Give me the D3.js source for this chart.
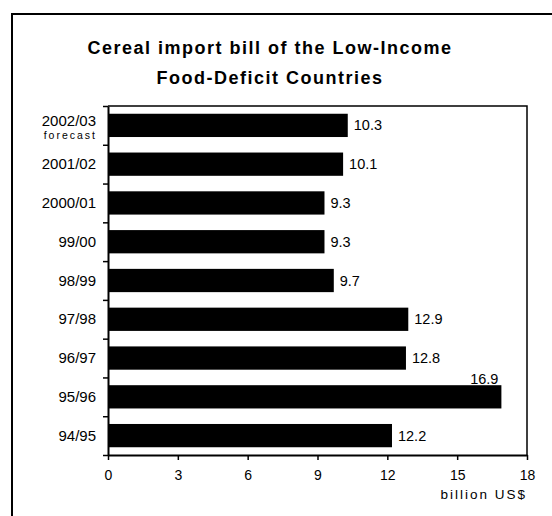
<!DOCTYPE html>
<html>
<head>
<meta charset="utf-8">
<script src="https://cdn.jsdelivr.net/npm/d3@7"></script>
<style>
  body { margin: 0; background: #fff; }
  text { font-family: "Liberation Sans", Arial, sans-serif; fill: #000; }
</style>
</head>
<body>
<script>
// data, top to bottom as drawn
const seasons = ["2002/03", "2001/02", "2000/01", "99/00", "98/99", "97/98", "96/97", "95/96", "94/95"];
const bills = [10.3, 10.1, 9.3, 9.3, 9.7, 12.9, 12.8, 16.9, 12.2];
const xTicks = [0, 3, 6, 9, 12, 15, 18];

const W = 552, H = 516;
const plot = { left: 108, right: 527, top: 106, bottom: 455 };

const svg = d3.select("body").append("svg")
  .attr("width", W)
  .attr("height", H);

// outer frame (runs off the picture right and bottom)
svg.append("rect")
  .attr("x", 12).attr("y", 14)
  .attr("width", 620).attr("height", 620)
  .attr("fill", "none")
  .attr("stroke", "#000")
  .attr("stroke-width", 2);

// title
const title = svg.append("text")
  .attr("text-anchor", "middle")
  .attr("font-size", 18)
  .attr("font-weight", "bold")
  .attr("letter-spacing", 1.5);
title.append("tspan").attr("x", 270).attr("y", 54).text("Cereal import bill of the Low-Income");
title.append("tspan").attr("x", 270).attr("y", 84).text("Food-Deficit Countries");

const x = d3.scaleLinear().domain([0, 18]).range([plot.left, plot.right]);
const y = d3.scaleBand().domain(seasons).range([plot.top, plot.bottom])
  .paddingInner(0.4).paddingOuter(0.2);
const yEdge = d3.scaleLinear().domain([0, seasons.length]).range([plot.top, plot.bottom]);

// plot frame top/right
svg.append("path")
  .attr("d", `M${plot.left},${plot.top}H${plot.right}V${plot.bottom}`)
  .attr("fill", "none")
  .attr("stroke", "#000")
  .attr("stroke-width", 1.5);

// bars
svg.selectAll("rect.bar")
  .data(bills)
  .enter().append("rect")
  .attr("class", "bar")
  .attr("x", x(0))
  .attr("y", (d, i) => y(seasons[i]))
  .attr("width", d => x(d) - x(0))
  .attr("height", y.bandwidth())
  .attr("fill", "#000");

// value labels; the longest one sits above its bar
svg.selectAll("text.val")
  .data(bills)
  .enter().append("text")
  .attr("class", "val")
  .attr("font-size", 14.5)
  .attr("x", d => d > 15 ? x(d) - 3 : x(d) + 6)
  .attr("y", (d, i) => d > 15 ? y(seasons[i]) - 1 : y(seasons[i]) + y.bandwidth() / 2 + 5)
  .attr("text-anchor", d => d > 15 ? "end" : "start")
  .text(d => d.toFixed(1));

// x axis
const xAxis = svg.append("g")
  .attr("transform", `translate(0,${plot.bottom})`)
  .call(d3.axisBottom(x).tickValues(xTicks).tickSize(5).tickSizeOuter(0).tickPadding(10));
xAxis.select(".domain").attr("stroke-width", 2);
xAxis.selectAll(".tick line").attr("stroke-width", 1.5);
xAxis.selectAll(".tick text")
  .attr("font-size", 14)
  .attr("font-family", "Liberation Sans, Arial, sans-serif");

svg.append("text")
  .attr("x", plot.right)
  .attr("y", 499)
  .attr("text-anchor", "end")
  .attr("font-size", 13.5)
  .attr("letter-spacing", 2)
  .text("billion US$");

// y axis: ticks on the category boundaries
const yAxis = svg.append("g")
  .attr("transform", `translate(${plot.left},0)`)
  .call(d3.axisLeft(yEdge).tickValues(d3.range(seasons.length + 1)).tickSize(5).tickSizeOuter(0).tickFormat(""));
yAxis.select(".domain").attr("stroke-width", 2);
yAxis.selectAll(".tick line").attr("stroke-width", 1.5);

// category labels
svg.selectAll("text.cat")
  .data(seasons)
  .enter().append("text")
  .attr("class", "cat")
  .attr("x", 96)
  .attr("y", (d, i) => y(d) + y.bandwidth() / 2 + (i === 0 ? 0.5 : 5))
  .attr("text-anchor", "end")
  .attr("font-size", 15)
  .text(d => d);

svg.append("text")
  .attr("x", 97)
  .attr("y", y(seasons[0]) + y.bandwidth() / 2 + 14)
  .attr("text-anchor", "end")
  .attr("font-size", 10.5)
  .attr("letter-spacing", 2)
  .text("forecast");
</script>
</body>
</html>
